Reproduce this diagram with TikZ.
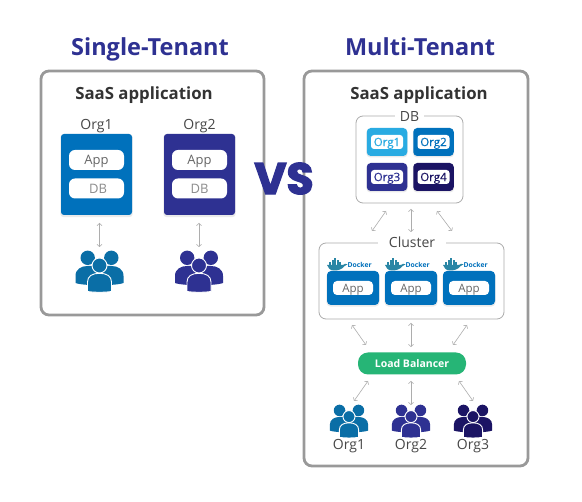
\documentclass[tikz,border=0pt]{standalone}
\usepackage{fontspec}
\setmainfont{Open Sans}
\newfontfamily\vsfont[FakeBold=3]{Poppins}
\newfontfamily\semifont[FakeBold=.35]{Open Sans}
\usetikzlibrary{arrows.meta,shadows}
\definecolor{navy}{HTML}{2E3192}
\definecolor{blueorg}{HTML}{0071BC}
\definecolor{skyorg}{HTML}{29ABE2}
\definecolor{deeporg}{HTML}{1B1464}
\definecolor{crowdblue}{HTML}{0A6EA6}
\definecolor{greenlb}{HTML}{26B576}
\definecolor{panelgrey}{HTML}{999999}
\definecolor{thingrey}{HTML}{ABABAB}
\definecolor{whale}{HTML}{2A86A5}
\tikzset{
  softshadow/.style={drop shadow={opacity=.16,shadow xshift=0pt,shadow yshift=-1.2pt,shadow scale=1.02}},
  box/.style={rectangle,inner sep=0pt,outer sep=0pt},
  panel/.style={box,draw=panelgrey,line width=2.8pt,rounded corners=8pt,fill=white},
  frame/.style={box,draw=thingrey,line width=.8pt,rounded corners=7pt,fill=white},
  orgbox/.style={box,rounded corners=3pt,softshadow,fill=#1},
  pill/.style={box,fill=white,rounded corners=6pt,minimum width=55pt,minimum height=20pt,text height=9.3pt,text depth=0pt,font=\fontsize{13}{13}\selectfont},
  minipill/.style={box,fill=white,rounded corners=4pt,minimum width=40pt,minimum height=14pt,text height=8.2pt,text depth=0pt,font=\fontsize{11.5}{12}\selectfont,text=black!60},
  tinypill/.style={box,fill=white,rounded corners=3pt,minimum width=32pt,minimum height=14pt,text height=8.2pt,text depth=0pt,font=\fontsize{11.5}{12}\semifont,text=#1},
  cell/.style={box,rounded corners=4pt,softshadow,fill=#1,minimum width=40.5pt,minimum height=28pt},
  biarrow/.style={draw=black!32,line width=.6pt,{Straight Barb[length=2.2pt,width=5pt]}-{Straight Barb[length=2.2pt,width=5pt]}},
  heading/.style={text height=16.8pt,text depth=0pt,inner sep=0pt,font=\fontsize{23.5}{24}\selectfont\bfseries,text=navy},
  subhead/.style={text height=12pt,text depth=0pt,inner sep=0pt,font=\fontsize{16.8}{17}\selectfont\bfseries,text=black!80},
  orglabel/.style={text height=10pt,text depth=0pt,inner sep=0pt,font=\fontsize{14}{14}\selectfont,text=black!72},
  gaplabel/.style={box,fill=white,minimum height=14pt,text height=10pt,text depth=0pt,font=\fontsize{14}{14}\selectfont,text=black!72},
  dockertext/.style={font=\fontsize{6.8}{8}\selectfont\bfseries,text=blueorg,inner sep=0pt,anchor=west},
  pics/crowd/.style={code={
    \fill[fill=#1] (-11.8,6.8) circle (7.2);
    \fill[fill=#1] (11.8,6.8) circle (7.2);
    \fill[fill=#1] (-24,32) -- (-24,25) .. controls (-24,18) and (-18,15) .. (-12,15) -- (12,15)
       .. controls (18,15) and (24,18) .. (24,25) -- (24,32) .. controls (16,35) and (-16,35) .. (-24,32) -- cycle;
    \path[draw=white,line width=.9pt,fill=#1] (-12,40.5) -- (-12,31) .. controls (-12,25) and (-7,22.3) .. (0,22.3)
       .. controls (7,22.3) and (12,25) .. (12,31) -- (12,40.5) .. controls (6,41.5) and (-6,41.5) .. (-12,40.5) -- cycle;
    \path[draw=white,line width=.9pt,fill=#1] (0,14.5) circle (7.5);
  }},
  pics/dockerwhale/.style={code={
    \fill[whale] (0,6.5) -- (16,6.5) .. controls (17,5) and (19,5) .. (20.5,5.8) .. controls (19.5,7.5) and (18,7.5) .. (17,8)
       .. controls (15,11) and (11,12) .. (7,12) .. controls (3,12) and (1,9.5) .. (0,6.5) -- cycle;
    \foreach \xa/\ya in {2/4,4.5/4,7/4,9.5/4,12/4,4.5/1.6,7/1.6,9.5/1.6,7/-.5}
      \fill[whale] (\xa,\ya) rectangle +(2.3,2.4);
  }}
}
\begin{document}
\begin{tikzpicture}[x=1pt,y=-1pt]
\useasboundingbox (0,0) rectangle (582,502);
\fill[white] (0,0) rectangle (582,502);

% titles
\node[heading] (titleS) at (150,47) {Single-Tenant};
\node[heading] (titleM) at (420,47) {Multi-Tenant};

% left panel
\node[panel,minimum width=223pt,minimum height=244pt] (panelS) at (152.5,193) {};
\node[subhead] (saasS) at (144,93.5) {SaaS application};
\node[orglabel] (lorg1) at (96.5,124.5) {Org1};
\node[orglabel] (lorg2) at (199.5,124.5) {Org2};
\node[orgbox=blueorg,minimum width=71pt,minimum height=81pt] (lbox1) at (96.5,174.5) {};
\node[orgbox=navy,minimum width=71pt,minimum height=81pt] (lbox2) at (199.5,174.5) {};
\node[pill,text=black!60] (lapp1) at (96.5,160) {App};
\node[pill,text=black!45] (ldb1) at (96.5,188.5) {\hspace{3pt}DB};
\node[pill,text=black!60] (lapp2) at (199.5,160) {App};
\node[pill,text=black!45] (ldb2) at (199.5,188.5) {DB};
\pic (lpeople1) at (99.5,251) {crowd=crowdblue};
\pic (lpeople2) at (199,251) {crowd=navy};
\coordinate (la1) at (99.5,223); \coordinate (la1b) at (99.5,247);
\coordinate (la2) at (199,223); \coordinate (la2b) at (199,247);
\draw[biarrow] (la1) -- (la1b);
\draw[biarrow] (la2) -- (la2b);

% right panel
\node[panel,minimum width=224pt,minimum height=395pt] (panelM) at (416,268.5) {};
\node[subhead] (saasM) at (419,93.5) {SaaS application};

% DB frame
\node[frame,minimum width=107pt,minimum height=87pt] (dbframe) at (409.5,159.5) {};
\node[gaplabel,minimum width=29pt] (dblabel) at (409.5,116.5) {DB};
\node[cell=skyorg] (c1) at (387,142) {};
\node[cell=blueorg] (c2) at (433.5,142) {};
\node[cell=navy] (c3) at (387,177) {};
\node[cell=deeporg] (c4) at (433.5,177) {};
\node[tinypill=skyorg] (t1) at (387,142) {Org1};
\node[tinypill=blueorg] (t2) at (433.5,142) {Org2};
\node[tinypill=navy] (t3) at (387,177) {Org3};
\node[tinypill=deeporg] (t4) at (433.5,177) {Org4};

% cluster frame
\node[frame,minimum width=185pt,minimum height=76pt] (clframe) at (411.5,281) {};
\node[gaplabel,minimum width=68pt] (cllabel) at (412,242.3) {Cluster};
\foreach \nm/\cx in {a/353,b/411,c/469}{
  \node[orgbox=blueorg,minimum width=52pt,minimum height=34pt,rounded corners=4pt] (ap\nm) at (\cx,288) {};
  \node[minipill] (apt\nm) at (\cx,288) {App};
  \pic (wh\nm) at (\cx-26,258.5) {dockerwhale};
  \node[dockertext] (dk\nm) at (\cx-5.5,264.5) {Docker};
}

% load balancer
\node[box,fill=greenlb,rounded corners=10pt,minimum width=108pt,minimum height=22pt,text height=7.5pt,text depth=0pt,text=white,font=\fontsize{10.5}{12}\selectfont\bfseries] (lb) at (412,363.5) {Load Balancer};

% crowds
\pic[scale=.8] (rp1) at (349,405) {crowd=crowdblue};
\pic[scale=.8] (rp2) at (411,405) {crowd=navy};
\pic[scale=.8] (rp3) at (473,405) {crowd=deeporg};
\node[orglabel] (ro1) at (349,445) {Org1};
\node[orglabel] (ro2) at (411,445) {Org2};
\node[orglabel] (ro3) at (473,445) {Org3};

% arrows DB--Cluster
\coordinate (d1a) at (386,211); \coordinate (d1b) at (372,231);
\coordinate (d2a) at (411,209); \coordinate (d2b) at (411,232);
\coordinate (d3a) at (437,211); \coordinate (d3b) at (452,231);
\draw[biarrow] (d1a) -- (d1b);
\draw[biarrow] (d2a) -- (d2b);
\draw[biarrow] (d3a) -- (d3b);
% arrows Cluster--LB
\coordinate (e1a) at (352,325); \coordinate (e1b) at (366,345);
\coordinate (e2a) at (411,323); \coordinate (e2b) at (411,347);
\coordinate (e3a) at (467,325); \coordinate (e3b) at (453,345);
\draw[biarrow] (e1a) -- (e1b);
\draw[biarrow] (e2a) -- (e2b);
\draw[biarrow] (e3a) -- (e3b);
% arrows LB--crowds
\coordinate (f1a) at (368,381); \coordinate (f1b) at (354,401);
\coordinate (f2a) at (411,381); \coordinate (f2b) at (411,405);
\coordinate (f3a) at (459,381); \coordinate (f3b) at (473,401);
\draw[biarrow] (f1a) -- (f1b);
\draw[biarrow] (f2a) -- (f2b);
\draw[biarrow] (f3a) -- (f3b);

% VS
\node[inner sep=0pt,text=navy,font=\fontsize{44}{44}\selectfont\vsfont\bfseries] (vs) at (284,178.5) {VS};
\end{tikzpicture}
\end{document}
